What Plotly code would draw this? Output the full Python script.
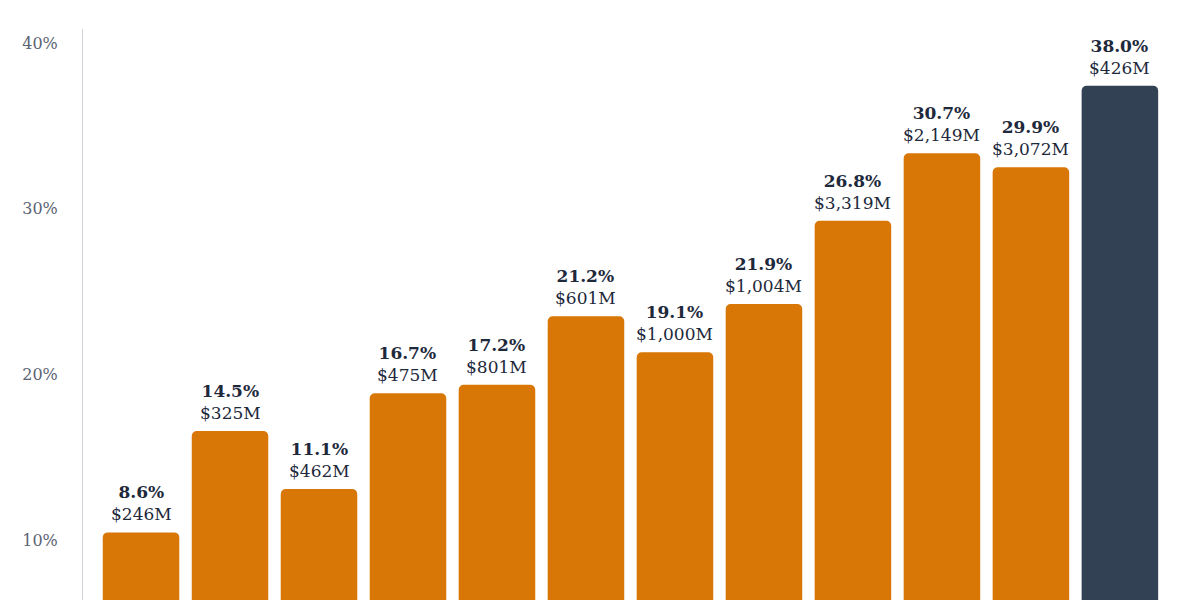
import plotly.graph_objects as go

# bar heights as read on the y axis (%), and the two label lines above each bar
bar_height = [10.46, 16.58, 13.08, 18.85, 19.37, 23.50, 21.33, 24.24, 29.27, 33.34, 32.49, 37.42]
pct_label = ["8.6%", "14.5%", "11.1%", "16.7%", "17.2%", "21.2%", "19.1%", "21.9%",
             "26.8%", "30.7%", "29.9%", "38.0%"]
usd_label = ["$246M", "$325M", "$462M", "$475M", "$801M", "$601M", "$1,000M", "$1,004M",
             "$3,319M", "$2,149M", "$3,072M", "$426M"]
y_ticks = [10, 20, 30, 40]

ORANGE = "#d97706"
NAVY = "#334155"
bar_colors = [ORANGE] * (len(bar_height) - 1) + [NAVY]
xs = list(range(len(bar_height)))

fig = go.Figure()
fig.add_trace(go.Bar(
    x=xs, y=bar_height,
    marker=dict(color=bar_colors, line=dict(width=0), cornerradius=5),
    hoverinfo="skip",
))

# two-line labels above each bar
for x, h, p, u in zip(xs, bar_height, pct_label, usd_label):
    fig.add_annotation(
        x=x, y=h, yanchor="bottom", yshift=6, showarrow=False,
        text=f"<b>{p}</b><br>{u}",
        font=dict(family="DejaVu Serif", size=17, color="#1e293b"),
    )

fig.update_layout(
    width=1200, height=600,
    margin=dict(l=83, r=0, t=29, b=0),
    plot_bgcolor="#ffffff", paper_bgcolor="#ffffff",
    bargap=0.14,
    showlegend=False,
    xaxis=dict(range=[-0.652, 11.9], showticklabels=False, showgrid=False,
               zeroline=False, showline=False),
    yaxis=dict(range=[6.38, 40.84], tickvals=y_ticks, ticktext=[f"{t}%" for t in y_ticks],
               showgrid=False, zeroline=False, showline=True, linecolor="#cfd4da",
               linewidth=1, ticks="", ticklabelstandoff=21, automargin=False,
               tickfont=dict(family="DejaVu Serif", size=16, color="#5b6473")),
)

fig.write_html("out.html", config={"displayModeBar": False},
               post_script="document.body.style.margin='0';")
